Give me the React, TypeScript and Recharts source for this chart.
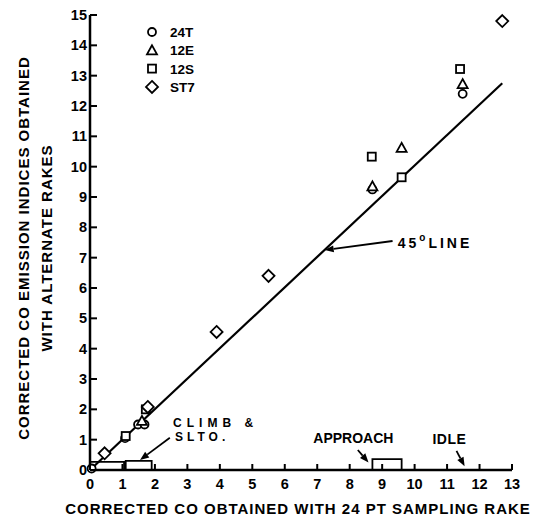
import { ScatterChart, Scatter, XAxis, YAxis, ReferenceLine, ReferenceArea, ReferenceDot } from 'recharts';

// ticks
const xTicks = [0, 1, 2, 3, 4, 5, 6, 7, 8, 9, 10, 11, 12, 13];
const yTicks = [0, 1, 2, 3, 4, 5, 6, 7, 8, 9, 10, 11, 12, 13, 14, 15];

// series (24 pt rake value, alternate rake value)
const rake24T = [
  { x: 0.05, y: 0.05 }, { x: 1.08, y: 1.05 }, { x: 1.48, y: 1.5 },
  { x: 1.68, y: 1.5 }, { x: 8.7, y: 9.25 }, { x: 11.48, y: 12.4 },
];
const rake12E = [
  { x: 1.6, y: 1.62 }, { x: 8.7, y: 9.35 }, { x: 9.6, y: 10.62 }, { x: 11.48, y: 12.72 },
];
const rake12S = [
  { x: 1.1, y: 1.12 }, { x: 1.72, y: 2.0 }, { x: 8.68, y: 10.33 },
  { x: 9.6, y: 9.65 }, { x: 11.4, y: 13.22 },
];
const rakeST7 = [
  { x: 0.45, y: 0.55 }, { x: 1.78, y: 2.08 }, { x: 3.9, y: 4.55 },
  { x: 5.5, y: 6.4 }, { x: 12.7, y: 14.8 },
];
const legendNames = ['24T', '12E', '12S', 'ST7'];

const FONT = '"Liberation Sans", Arial, sans-serif';

const CircleMark = ({ cx, cy }: any) => (
  <circle cx={cx} cy={cy} r={4} fill="#fff" stroke="#000" strokeWidth={1.8} />
);
const TriangleMark = ({ cx, cy }: any) => (
  <polygon points={`${cx},${cy - 5} ${cx - 5},${cy + 4} ${cx + 5},${cy + 4}`} fill="#fff" stroke="#000" strokeWidth={1.8} />
);
const SquareMark = ({ cx, cy }: any) => (
  <rect x={cx - 4} y={cy - 4} width={8} height={8} fill="#fff" stroke="#000" strokeWidth={1.8} />
);
const DiamondMark = ({ cx, cy }: any) => (
  <polygon points={`${cx},${cy - 6} ${cx + 6},${cy} ${cx},${cy + 6} ${cx - 6},${cy}`} fill="#fff" stroke="#000" strokeWidth={1.8} />
);
const marks = [CircleMark, TriangleMark, SquareMark, DiamondMark];

const YTick = ({ x, y, payload }: any) => (
  <g>
    <line x1={x} x2={x + 7} y1={y} y2={y} stroke="#000" strokeWidth={2} />
    <text x={x - 3} y={y + 5} textAnchor="end" fontFamily={FONT} fontWeight="bold" fontSize={14.5} fill="#000">
      {payload.value}
    </text>
  </g>
);

const XTick = ({ x, y, payload }: any) => (
  <g>
    <line x1={x} x2={x} y1={y} y2={y - 6} stroke="#000" strokeWidth={2} />
    <text x={x} y={y + 19} textAnchor="middle" fontFamily={FONT} fontWeight="bold" fontSize={14.5} fill="#000">
      {payload.value}
    </text>
  </g>
);

const Arrow = ({ x1, y1, x2, y2 }: any) => {
  const a = Math.atan2(y2 - y1, x2 - x1);
  const L = 9, W = 3.5;
  const bx = x2 - L * Math.cos(a), by = y2 - L * Math.sin(a);
  const px = -Math.sin(a) * W, py = Math.cos(a) * W;
  return (
    <g>
      <line x1={x1} y1={y1} x2={bx} y2={by} stroke="#000" strokeWidth={1.8} />
      <polygon points={`${x2},${y2} ${bx + px},${by + py} ${bx - px},${by - py}`} fill="#000" />
    </g>
  );
};

const Bracket = ({ x, y, width, height }: any) => (
  <path d={`M${x},${y + height} L${x},${y} L${x + width},${y} L${x + width},${y + height}`} fill="none" stroke="#000" strokeWidth={1.8} />
);

const textShape = (label: string, spacing: number, size = 12) => ({ cx, cy }: any) => (
  <text x={cx} y={cy} fontFamily={FONT} fontWeight="bold" fontSize={size} letterSpacing={spacing} fill="#000">
    {label}
  </text>
);

const LineLabel = ({ cx, cy }: any) => (
  <text x={cx} y={cy} fontFamily={FONT} fontWeight="bold" fontSize={14} fill="#000" letterSpacing={3}>
    45<tspan dy={-7} fontSize={10}>o</tspan><tspan dy={7}>LINE</tspan>
  </text>
);

const LegendBox = () => (
  <svg width={80} height={80} style={{ position: 'absolute', left: 140, top: 22 }}>
    {legendNames.map((name, i) => {
      const Mark = marks[i];
      return (
        <g key={name}>
          <Mark cx={12} cy={10 + i * 18.3} />
          <text x={30} y={15 + i * 18.3} fontFamily={FONT} fontWeight="bold" fontSize={13.5} fill="#000">{name}</text>
        </g>
      );
    })}
  </svg>
);

export default function App() {
  return (
    <div style={{ position: 'relative', width: 546, height: 523, background: '#fff' }}>
      <style>{`body{margin:0}`}</style>
      <ScatterChart width={546} height={523} margin={{ top: 15, right: 34, bottom: 0, left: 0 }}>
        <XAxis
          type="number" dataKey="x" domain={[0, 13]} ticks={xTicks} interval={0}
          height={53} tickSize={0} tickMargin={0} tick={<XTick />}
          axisLine={{ stroke: '#000', strokeWidth: 2.5 }}
          label={{
            content: () => (
              <text x={298} y={514} textAnchor="middle" fontFamily={FONT} fontWeight="bold" fontSize={15} letterSpacing={1} fill="#000">
                CORRECTED CO OBTAINED WITH 24 PT SAMPLING RAKE
              </text>
            ),
          }}
        />
        <YAxis
          type="number" dataKey="y" domain={[0, 15]} ticks={yTicks} interval={0}
          width={90} tickSize={0} tickMargin={0} tick={<YTick />}
          axisLine={{ stroke: '#000', strokeWidth: 2.5 }}
          label={{
            content: () => (
              <g fontFamily={FONT} fontWeight="bold" fontSize={15} letterSpacing={1} fill="#000">
                <text x={29} y={248} textAnchor="middle" transform="rotate(-90, 29, 248)">
                  CORRECTED CO EMISSION INDICES OBTAINED
                </text>
                <text x={52} y={248} textAnchor="middle" transform="rotate(-90, 52, 248)">
                  WITH ALTERNATE RAKES
                </text>
              </g>
            ),
          }}
        />

        {/* 45 degree line */}
        <ReferenceLine segment={[{ x: 0, y: 0 }, { x: 12.7, y: 12.75 }]} stroke="#000" strokeWidth={2.2} ifOverflow="visible" />

        {/* flight mode brackets */}
        <ReferenceArea x1={0} x2={1.05} y1={0} y2={0.27} shape={<Bracket />} ifOverflow="visible" />
        <ReferenceArea x1={1.1} x2={1.9} y1={0} y2={0.3} shape={<Bracket />} ifOverflow="visible" />
        <ReferenceArea x1={8.7} x2={9.6} y1={0} y2={0.36} shape={<Bracket />} ifOverflow="visible" />

        {/* annotation arrows */}
        <ReferenceLine segment={[{ x: 9.32, y: 7.55 }, { x: 7.23, y: 7.25 }]} shape={<Arrow />} ifOverflow="visible" />
        <ReferenceLine segment={[{ x: 2.46, y: 1.06 }, { x: 1.54, y: 0.33 }]} shape={<Arrow />} ifOverflow="visible" />
        <ReferenceLine segment={[{ x: 8.25, y: 0.66 }, { x: 8.58, y: 0.25 }]} shape={<Arrow />} ifOverflow="visible" />
        <ReferenceLine segment={[{ x: 11.29, y: 0.63 }, { x: 11.54, y: 0.12 }]} shape={<Arrow />} ifOverflow="visible" />

        {/* annotation text */}
        <ReferenceDot x={9.48} y={7.32} shape={<LineLabel />} ifOverflow="visible" />
        <ReferenceDot x={2.56} y={1.42} shape={textShape('CLIMB &', 5)} ifOverflow="visible" />
        <ReferenceDot x={2.62} y={0.96} shape={textShape('SLTO.', 4)} ifOverflow="visible" />
        <ReferenceDot x={6.88} y={0.88} shape={textShape('APPROACH', 0, 14)} ifOverflow="visible" />
        <ReferenceDot x={10.55} y={0.85} shape={textShape('IDLE', 0.5, 14)} ifOverflow="visible" />

        <Scatter name="24T" data={rake24T} shape={<CircleMark />} isAnimationActive={false} />
        <Scatter name="12E" data={rake12E} shape={<TriangleMark />} isAnimationActive={false} />
        <Scatter name="12S" data={rake12S} shape={<SquareMark />} isAnimationActive={false} />
        <Scatter name="ST7" data={rakeST7} shape={<DiamondMark />} isAnimationActive={false} />
      </ScatterChart>
      <LegendBox />
    </div>
  );
}
